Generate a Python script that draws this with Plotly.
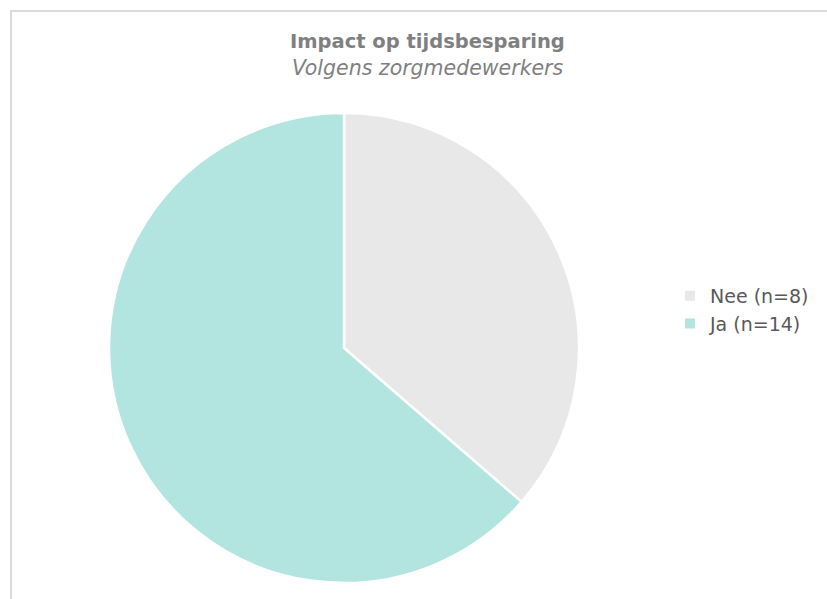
import plotly.graph_objects as go

labels = ["Nee (n=8)", "Ja (n=14)"]
values = [8, 14]
colors = ["#e8e8e8", "#b2e5df"]
title = "Impact op tijdsbesparing"
subtitle = "Volgens zorgmedewerkers"

W, H = 827, 599
FONT = "DejaVu Sans"

fig = go.Figure(go.Pie(
    labels=labels, values=values, sort=False, direction="clockwise", rotation=0,
    marker=dict(colors=colors, line=dict(color="white", width=2.5)),
    textinfo="none", hoverinfo="label+value",
    domain=dict(x=[109 / W, 579 / W], y=[1 - 583 / H, 1 - 113 / H]),
))

fig.update_layout(
    width=W, height=H, margin=dict(l=0, r=0, t=0, b=0),
    paper_bgcolor="white", plot_bgcolor="white",
    font=dict(family=FONT, color="#595959", size=19),
    legend=dict(x=670 / W, y=1 - 310 / H, xanchor="left", yanchor="middle",
                font=dict(size=19, color="#595959", family=FONT), itemsizing="constant"),
    shapes=[dict(type="rect", xref="paper", yref="paper",
                 x0=11 / W, x1=1.01, y0=-0.01, y1=1 - 11 / H,
                 line=dict(color="#d0d0d0", width=1.5), fillcolor="rgba(0,0,0,0)")],
    annotations=[
        dict(text="<b>" + title + "</b>", x=427 / W, y=1 - 42 / H, xref="paper", yref="paper",
             showarrow=False, xanchor="center", yanchor="middle",
             font=dict(size=19.5, color="#7f7f7f", family=FONT)),
        dict(text="<i>" + subtitle + "</i>", x=428 / W, y=1 - 68 / H, xref="paper", yref="paper",
             showarrow=False, xanchor="center", yanchor="middle",
             font=dict(size=20.5, color="#7f7f7f", family=FONT)),
    ],
)

fig.write_html("out.html")
